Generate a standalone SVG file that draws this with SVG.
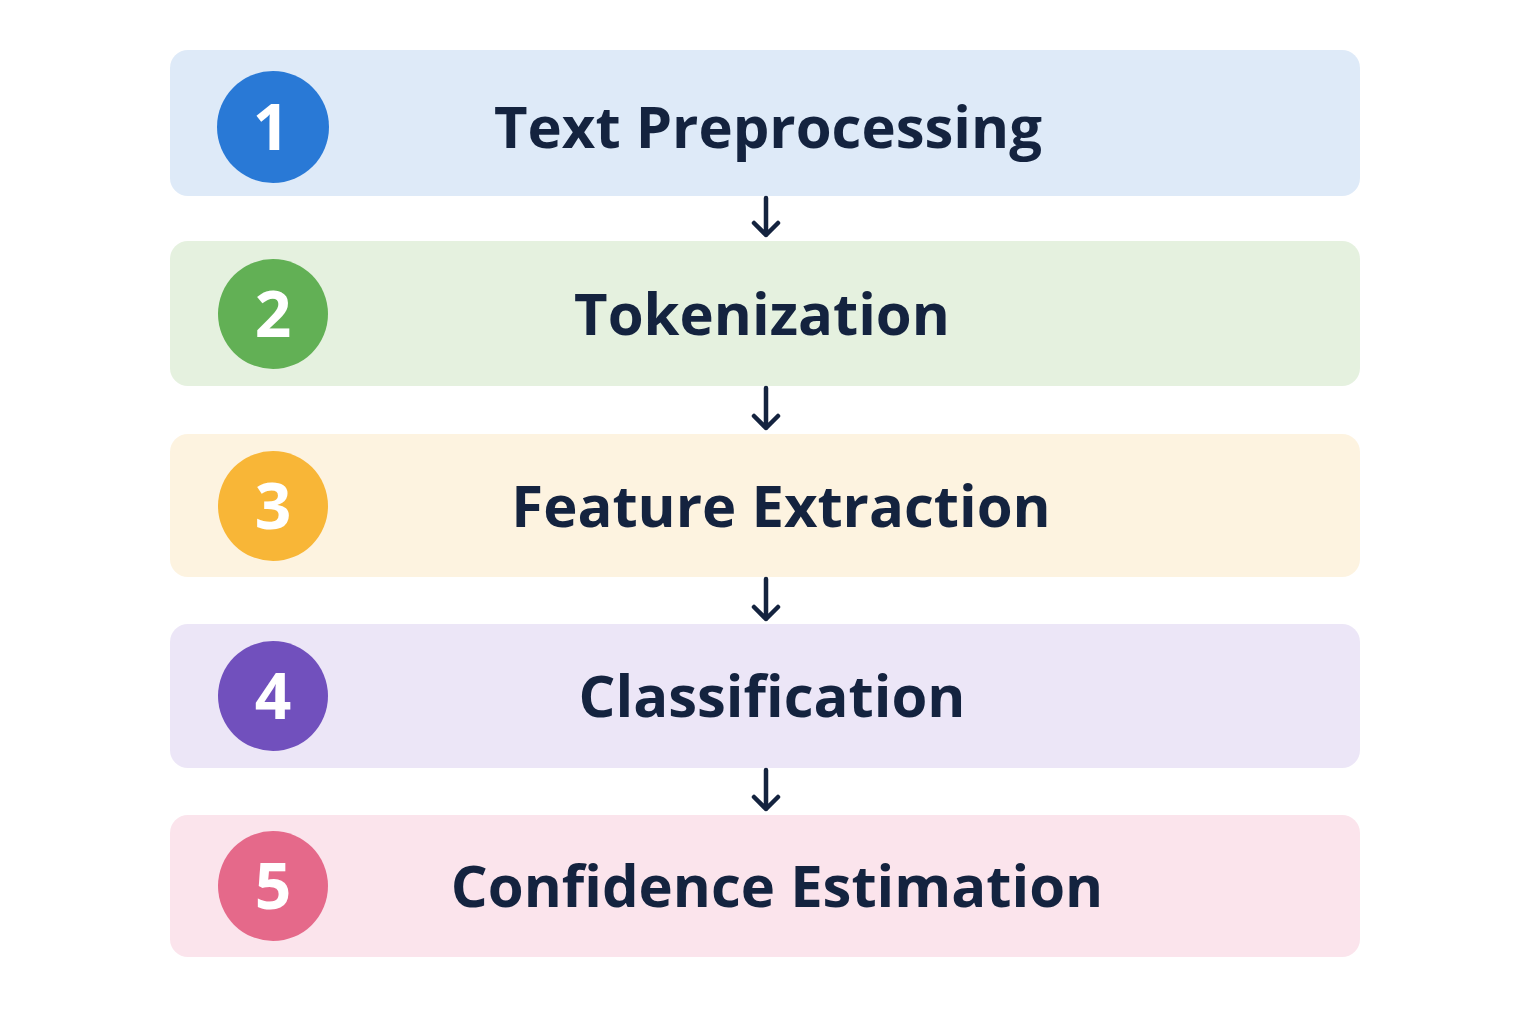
<svg xmlns="http://www.w3.org/2000/svg" width="1536" height="1024" viewBox="0 0 1536 1024">
<style>
.t{font-family:"Open Sans","Liberation Sans",sans-serif;font-weight:700;font-size:58px;fill:#14233f;text-anchor:middle}
.n{font-family:"Open Sans","Liberation Sans",sans-serif;font-weight:700;font-size:64px;fill:#fff;text-anchor:middle}
.a{stroke:#14233f;stroke-width:4.5;fill:none;stroke-linecap:round;stroke-linejoin:round}
</style>
<rect width="1536" height="1024" fill="#fff"/>
<g id="step1"><rect x="170" y="50" width="1190" height="146" rx="18" fill="#deeaf8"/><circle cx="273" cy="127" r="56" fill="#2979d6"/><text class="n" x="271" y="150">1</text><text class="t" x="768" y="148">Text Preprocessing</text></g>
<g id="step2"><rect x="170" y="241" width="1190" height="145" rx="18" fill="#e5f1df"/><circle cx="273" cy="314" r="55" fill="#62b055"/><text class="n" x="273" y="337">2</text><text class="t" x="762" y="335">Tokenization</text></g>
<g id="step3"><rect x="170" y="434" width="1190" height="143" rx="18" fill="#fdf3e0"/><circle cx="273" cy="506" r="55" fill="#f8b637"/><text class="n" x="273" y="529">3</text><text class="t" x="781" y="527">Feature Extraction</text></g>
<g id="step4"><rect x="170" y="624" width="1190" height="144" rx="18" fill="#ece6f7"/><circle cx="273" cy="696" r="55" fill="#7150bd"/><text class="n" x="273" y="719">4</text><text class="t" x="772" y="717">Classification</text></g>
<g id="step5"><rect x="170" y="815" width="1190" height="142" rx="18" fill="#fbe4ec"/><circle cx="273" cy="886" r="55" fill="#e5698a"/><text class="n" x="273" y="909">5</text><text class="t" x="777" y="907">Confidence Estimation</text></g>
<g id="connectors">
<path class="a" d="M766 198V235M754 223L766 235L778 223"/>
<path class="a" d="M766 388V428M754 416L766 428L778 416"/>
<path class="a" d="M766 579V619M754 607L766 619L778 607"/>
<path class="a" d="M766 770V809M754 797L766 809L778 797"/>
</g>
</svg>
